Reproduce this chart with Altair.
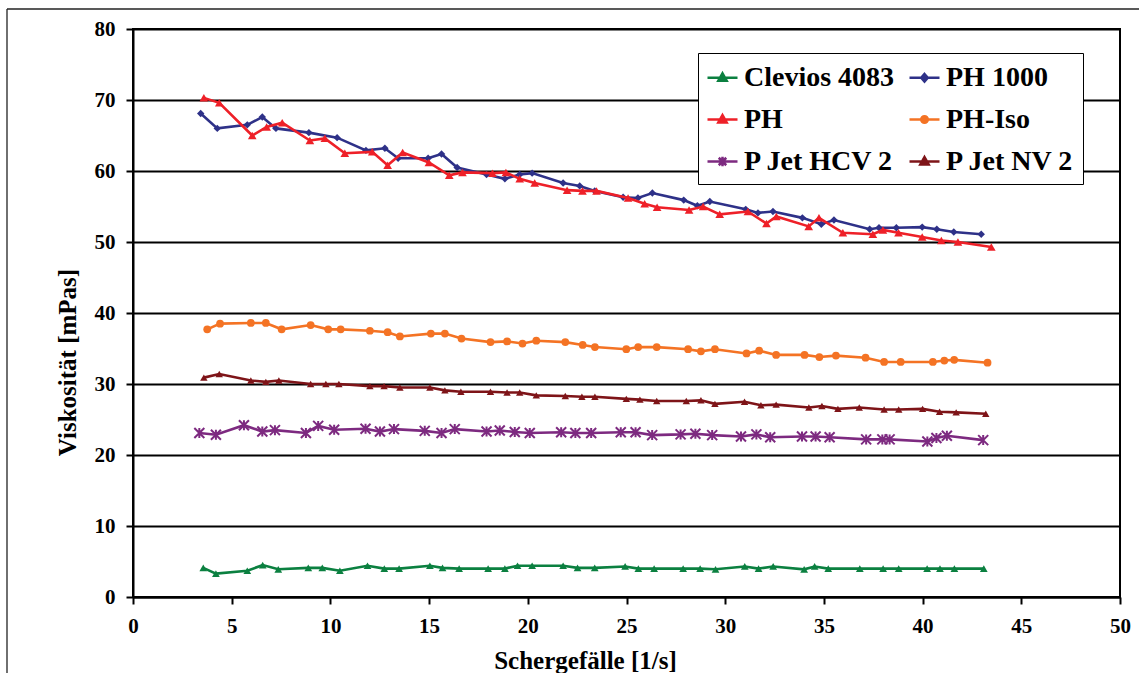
import altair as alt
import pandas as pd

# Series names (legend order) and colours
names = ["Clevios 4083", "PH 1000", "PH", "PH-Iso", "P Jet HCV 2", "P Jet NV 2"]
colors = ["#0B8040", "#2E3188", "#EE2028", "#F47324", "#7D2A80", "#7E1418"]

# Shear rate [1/s] and viscosity [mPas] per series
clevios_x = [3.56, 4.20, 5.79, 6.57, 7.36, 8.88, 9.59, 10.48, 11.88, 12.73,
             13.48, 15.04, 15.68, 16.52, 17.99, 18.84, 19.48, 20.22, 21.79, 22.52,
             23.39, 24.93, 25.60, 26.40, 27.87, 28.73, 29.51, 30.99, 31.69, 32.43,
             34.00, 34.53, 35.22, 36.82, 38.00, 38.79, 40.23, 40.88, 41.61, 43.10]
clevios_y = [4.1, 3.3, 3.7, 4.5, 3.9, 4.1, 4.1, 3.7, 4.4, 4.0,
             4.0, 4.4, 4.1, 4.0, 4.0, 4.0, 4.4, 4.4, 4.4, 4.1,
             4.1, 4.3, 4.0, 4.0, 4.0, 4.0, 3.9, 4.3, 4.0, 4.3,
             3.9, 4.3, 4.0, 4.0, 4.0, 4.0, 4.0, 4.0, 4.0, 4.0]

ph1000_x = [3.43, 4.27, 5.79, 6.55, 7.24, 8.91, 10.34, 11.80, 12.76, 13.43,
            14.95, 15.63, 16.42, 17.91, 18.84, 19.59, 20.22, 21.79, 22.63, 23.39,
            24.83, 25.58, 26.31, 27.90, 28.59, 29.22, 31.04, 31.66, 32.42, 33.91,
            34.87, 35.51, 37.32, 37.79, 38.67, 39.98, 40.72, 41.58, 42.97]
ph1000_y = [68.1, 66.0, 66.5, 67.6, 66.0, 65.4, 64.7, 62.9, 63.2, 61.8,
            61.8, 62.4, 60.5, 59.5, 58.9, 59.5, 59.7, 58.3, 57.9, 57.2,
            56.3, 56.2, 56.9, 55.9, 55.1, 55.7, 54.6, 54.1, 54.3, 53.4,
            52.5, 53.1, 51.8, 52.0, 52.0, 52.1, 51.8, 51.4, 51.1]

ph_x = [3.59, 4.37, 6.04, 6.77, 7.56, 8.96, 9.72, 10.73, 12.12, 12.90,
        13.66, 14.99, 16.02, 16.69, 18.21, 18.89, 19.59, 20.35, 21.99, 22.77,
        23.48, 25.08, 25.92, 26.55, 28.17, 28.88, 29.72, 31.15, 32.09, 32.59,
        34.23, 34.75, 35.96, 37.48, 37.99, 38.78, 39.98, 40.95, 41.79, 43.48]
ph_y = [70.3, 69.6, 65.0, 66.2, 66.8, 64.3, 64.6, 62.5, 62.7, 60.8,
        62.6, 61.2, 59.4, 59.8, 59.7, 59.8, 58.9, 58.3, 57.3, 57.2,
        57.2, 56.2, 55.4, 54.9, 54.5, 55.0, 53.9, 54.3, 52.6, 53.6,
        52.2, 53.4, 51.3, 51.1, 51.7, 51.3, 50.7, 50.2, 50.0, 49.3]

iso_x = [3.76, 4.41, 5.97, 6.73, 7.53, 9.00, 9.89, 10.52, 12.00, 12.90,
         13.52, 15.09, 15.80, 16.64, 18.11, 18.95, 19.73, 20.43, 21.90, 22.78,
         23.40, 24.99, 25.59, 26.53, 28.12, 28.77, 29.48, 31.08, 31.72, 32.58,
         34.02, 34.77, 35.61, 37.11, 38.05, 38.89, 40.52, 41.10, 41.60, 43.29]
iso_y = [37.7, 38.5, 38.6, 38.6, 37.7, 38.3, 37.7, 37.7, 37.5, 37.3,
         36.7, 37.1, 37.1, 36.4, 35.9, 36.0, 35.7, 36.1, 35.9, 35.5,
         35.2, 34.9, 35.2, 35.2, 34.9, 34.6, 34.9, 34.3, 34.7, 34.1,
         34.1, 33.8, 34.0, 33.7, 33.1, 33.1, 33.1, 33.3, 33.4, 33.0]

hcv_x = [3.36, 4.20, 5.62, 6.55, 7.19, 8.76, 9.38, 10.19, 11.78, 12.51,
         13.22, 14.78, 15.63, 16.30, 17.91, 18.58, 19.34, 20.10, 21.69, 22.41,
         23.21, 24.71, 25.46, 26.30, 27.74, 28.49, 29.34, 30.80, 31.58, 32.28,
         33.89, 34.58, 35.29, 37.14, 37.96, 38.33, 40.24, 40.70, 41.23, 43.07]
hcv_y = [23.1, 22.85, 24.2, 23.3, 23.5, 23.1, 24.1, 23.55, 23.7, 23.3,
         23.65, 23.4, 23.1, 23.65, 23.3, 23.45, 23.25, 23.1, 23.2, 23.1,
         23.1, 23.2, 23.2, 22.8, 22.9, 23.0, 22.8, 22.6, 22.9, 22.5,
         22.6, 22.6, 22.5, 22.2, 22.2, 22.2, 21.9, 22.4, 22.7, 22.1]

nv_x = [3.59, 4.37, 5.97, 6.73, 7.39, 9.00, 9.77, 10.43, 12.00, 12.72,
        13.52, 15.04, 15.80, 16.61, 18.11, 18.95, 19.59, 20.43, 21.90, 22.74,
        23.40, 24.99, 25.68, 26.53, 28.03, 28.77, 29.48, 30.98, 31.81, 32.58,
        34.24, 34.90, 35.71, 36.79, 38.05, 38.79, 40.00, 40.86, 41.70, 43.20]
nv_y = [30.9, 31.4, 30.5, 30.3, 30.5, 30.0, 30.0, 30.0, 29.7, 29.7,
        29.5, 29.5, 29.1, 28.9, 28.9, 28.8, 28.8, 28.4, 28.3, 28.2,
        28.2, 27.9, 27.8, 27.6, 27.6, 27.7, 27.2, 27.5, 27.0, 27.1,
        26.7, 26.9, 26.5, 26.7, 26.4, 26.4, 26.5, 26.1, 26.0, 25.8]

x_ticks = list(range(0, 51, 5))
y_ticks = list(range(0, 81, 10))

FONT = "Liberation Serif"

# Plot markers (Excel style) and legend symbols (line with marker)
ASTERISK = "M-1,-1L1,1M-1,1L1,-1M0,-1L0,1"
markers = [
    dict(shape="triangle-up", size=60, filled=True),
    dict(shape="diamond", size=55, filled=True),
    dict(shape="triangle-up", size=75, filled=True),
    dict(shape="circle", size=60, filled=True),
    dict(shape=ASTERISK, size=100, filled=False, strokeWidth=2),
    dict(shape="triangle-up", size=55, filled=True),
]
legend_paths = [
    "M-1,0L1,0M0,-0.3L0.28,0.2L-0.28,0.2Z",
    "M-1,0L1,0M0,-0.25L0.22,0L0,0.25L-0.22,0Z",
    "M-1,0L1,0M0,-0.3L0.28,0.2L-0.28,0.2Z",
    "M-1,0L1,0M-0.22,0A0.22,0.22,0,1,1,0.22,0A0.22,0.22,0,1,1,-0.22,0Z",
    "M-1,0L1,0M-0.25,-0.25L0.25,0.25M-0.25,0.25L0.25,-0.25M0,-0.32L0,0.32",
    "M-1,0L1,0M0,-0.3L0.28,0.2L-0.28,0.2Z",
]

x_scale = alt.Scale(domain=[0, 50], nice=False, zero=False)
y_scale = alt.Scale(domain=[0, 80], nice=False)

x_axis = alt.Axis(
    values=x_ticks, title="Schergefälle [1/s]", grid=False,
    domainColor="black", domainWidth=2, tickColor="black", tickWidth=2, tickSize=7,
    labelFont=FONT, labelFontSize=21, labelFontWeight="bold", labelColor="black",
    labelPadding=11, labelFlush=False, labelOverlap=False,
    titleFont=FONT, titleFontSize=25, titleFontWeight="bold", titleColor="black",
    titleX=452, titleY=71, titleBaseline="alphabetic", titleAlign="center",
)
y_axis = alt.Axis(
    values=y_ticks, title="Viskosität [mPas]", grid=True, gridColor="black", gridWidth=2,
    domainColor="black", domainWidth=2, tickColor="black", tickWidth=2, tickSize=7,
    labelFont=FONT, labelFontSize=21, labelFontWeight="bold", labelColor="black",
    labelPadding=11, labelFlush=False, labelOverlap=False,
    titleFont=FONT, titleFontSize=25, titleFontWeight="bold", titleColor="black",
    titleAngle=270, titleX=-58, titleY=333, titleBaseline="alphabetic", titleAlign="center",
)

series = [
    (clevios_x, clevios_y),
    (ph1000_x, ph1000_y),
    (ph_x, ph_y),
    (iso_x, iso_y),
    (hcv_x, hcv_y),
    (nv_x, nv_y),
]

layers = []
for (xs, ys), color, marker in zip(series, colors, markers):
    df = pd.DataFrame({"rate": xs, "visc": ys})
    base = alt.Chart(df).encode(
        x=alt.X("rate:Q", scale=x_scale, axis=x_axis),
        y=alt.Y("visc:Q", scale=y_scale, axis=y_axis),
    )
    layers.append(base.mark_line(color=color, strokeWidth=2.6))
    layers.append(base.mark_point(color=color, opacity=1, **marker))

# Legend: one off-screen point per series supplies the symbols
leg = alt.Legend(
    title=None, orient="none", legendX=565, legendY=24, columns=2,
    direction="horizontal",
    columnPadding=9, rowPadding=11, padding=8,
    fillColor="white", strokeColor="black",
    symbolSize=900, symbolStrokeWidth=2.5, symbolOpacity=1,
    labelFont=FONT, labelFontSize=28, labelFontWeight="bold", labelColor="black",
    labelOffset=5, labelLimit=400,
)
legend_df = pd.DataFrame({"series": names})
layers.append(
    alt.Chart(legend_df).mark_point(size=900, strokeWidth=2.5, opacity=1).encode(
        x=alt.value(-3000), y=alt.value(-3000),
        shape=alt.Shape("series:N", scale=alt.Scale(domain=names, range=legend_paths), legend=leg),
        fill=alt.Fill("series:N", scale=alt.Scale(domain=names, range=colors), legend=leg),
        stroke=alt.Stroke("series:N", scale=alt.Scale(domain=names, range=colors), legend=leg),
    )
)

# Outer frame lines of the chart area
one = pd.DataFrame({"k": [0]})
layers.append(alt.Chart(one).mark_rule(color="#222222", strokeWidth=1.3).encode(
    x=alt.value(-126), y=alt.value(-20), y2=alt.value(644)))
layers.append(alt.Chart(one).mark_rule(color="#222222", strokeWidth=1.3).encode(
    x=alt.value(-126), x2=alt.value(1006), y=alt.value(-20)))

chart = alt.layer(*layers).properties(
    width=987, height=568,
    padding={"left": 133, "top": 29, "right": 19, "bottom": 76},
    autosize=alt.AutoSizeParams(type="none"),
    background="white",
).configure_view(stroke="black", strokeWidth=2)

chart.save("out.html", embed_options={"renderer": "svg", "actions": False})
